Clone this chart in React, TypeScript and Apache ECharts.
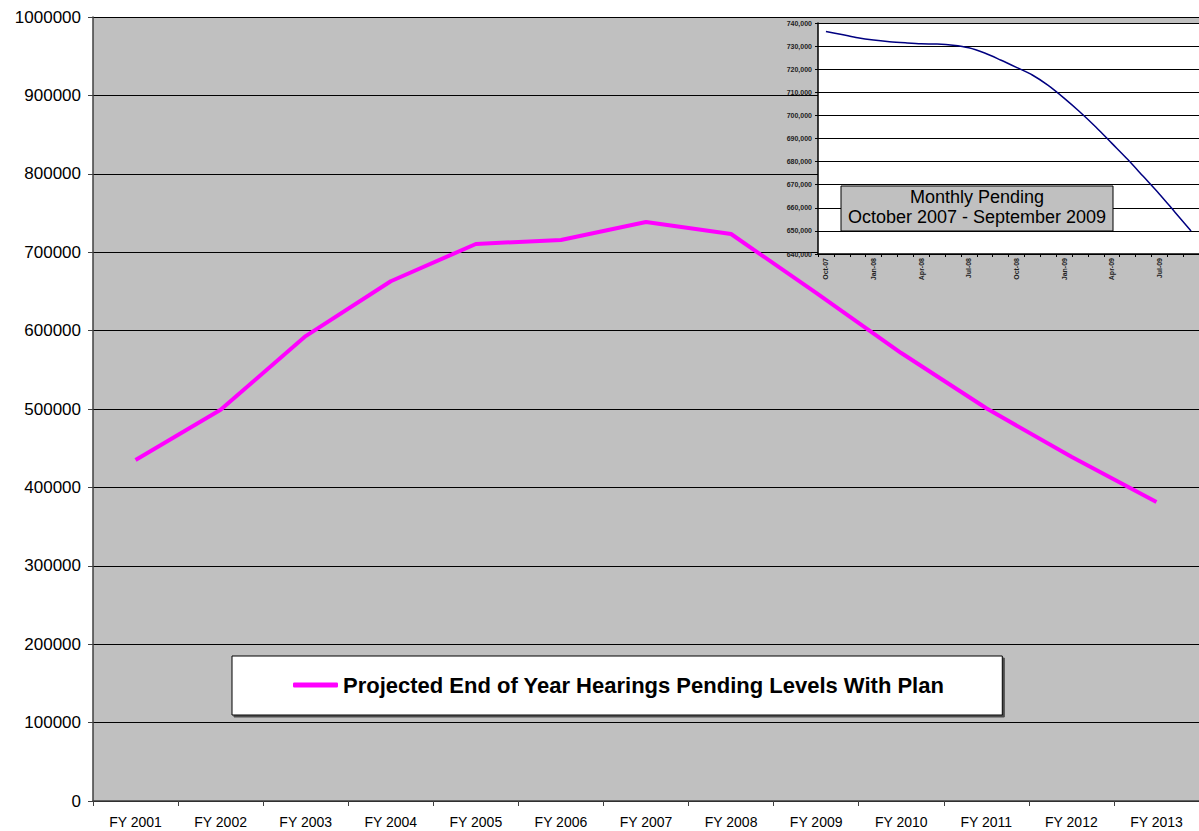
import React, { useEffect, useRef } from "react";
import * as echarts from "echarts";

const fiscalYears = ["FY 2001", "FY 2002", "FY 2003", "FY 2004", "FY 2005", "FY 2006", "FY 2007", "FY 2008", "FY 2009", "FY 2010", "FY 2011", "FY 2012", "FY 2013"];
const pendingWithPlan = [435000, 499000, 593000, 663000, 710500, 715600, 738500, 723200, 648000, 571400, 501000, 439000, 381400];
const seriesName = "Projected End of Year Hearings Pending Levels With Plan";

const months = ["Oct-07", "Nov-07", "Dec-07", "Jan-08", "Feb-08", "Mar-08", "Apr-08", "May-08", "Jun-08", "Jul-08", "Aug-08", "Sep-08", "Oct-08", "Nov-08", "Dec-08", "Jan-09", "Feb-09", "Mar-09", "Apr-09", "May-09", "Jun-09", "Jul-09", "Aug-09", "Sep-09"];
const monthlyPending = [736300, 735000, 733600, 732600, 731900, 731400, 731000, 730900, 730400, 729300, 727000, 724000, 720800, 717500, 713000, 707500, 701500, 695000, 688000, 681000, 673500, 666000, 658000, 650000];
const insetTitle = ["Monthly Pending", "October 2007 - September 2009"];

const FONT = "'Liberation Sans', Arial, sans-serif";

export default function App() {
  const ref = useRef<HTMLDivElement>(null);
  useEffect(() => {
    if (!ref.current) return;
    const chart = echarts.init(ref.current, null, { renderer: "svg" });
    chart.setOption({
      animation: false,
      backgroundColor: "#ffffff",
      textStyle: { fontFamily: FONT },
      legend: {
        data: [seriesName],
        left: 232,
        top: 656,
        padding: [18, 58, 19, 61],
        backgroundColor: "#ffffff",
        borderColor: "#000000",
        borderWidth: 1,
        shadowColor: "rgba(60,60,60,0.9)",
        shadowOffsetX: 2,
        shadowOffsetY: 2,
        shadowBlur: 1,
        icon: "roundRect",
        itemWidth: 45,
        itemHeight: 5,
        textStyle: { fontFamily: FONT, fontSize: 22, fontWeight: "bold", color: "#000000" },
      },
      grid: [
        { left: 93, top: 17, right: 0, height: 784, show: true, backgroundColor: "#c0c0c0", borderWidth: 0 },
        { left: 818, top: 23, right: 0, height: 231, show: true, backgroundColor: "#ffffff", borderWidth: 0, z: 5 },
      ],
      xAxis: [
        {
          type: "category",
          gridIndex: 0,
          data: fiscalYears,
          boundaryGap: true,
          axisLine: { lineStyle: { color: "#404040", width: 1.5 } },
          axisTick: { show: true, length: 5, interval: 0, lineStyle: { color: "#404040" } },
          axisLabel: { interval: 0, fontSize: 14, color: "#000000", margin: 14, fontFamily: FONT },
          splitLine: { show: false },
        },
        {
          type: "category",
          gridIndex: 1,
          data: months,
          boundaryGap: true,
          axisLine: { lineStyle: { color: "#000000", width: 1.5 } },
          axisTick: { show: true, length: 3, interval: 0, lineStyle: { color: "#000000" } },
          axisLabel: { interval: 2, rotate: 90, fontSize: 7, fontWeight: "bold", color: "#222222", margin: 4, fontFamily: FONT },
          splitLine: { show: false },
          z: 6,
        },
      ],
      yAxis: [
        {
          type: "value",
          gridIndex: 0,
          min: 0,
          max: 1000000,
          interval: 100000,
          axisLine: { show: true, lineStyle: { color: "#404040", width: 1.5 } },
          axisTick: { show: true, length: 5, lineStyle: { color: "#404040" } },
          axisLabel: { fontSize: 17, color: "#000000", margin: 12, fontFamily: FONT, formatter: (v: number) => String(v) },
          splitLine: { show: true, lineStyle: { color: "#000000", width: 1 } },
        },
        {
          type: "value",
          gridIndex: 1,
          min: 640000,
          max: 740000,
          interval: 10000,
          axisLine: { show: true, lineStyle: { color: "#000000", width: 1.5 } },
          axisTick: { show: true, length: 3, lineStyle: { color: "#000000" } },
          axisLabel: {
            fontSize: 7,
            fontWeight: "bold",
            color: "#222222",
            margin: 6,
            fontFamily: FONT,
            formatter: (v: number) => v.toLocaleString("en-US"),
          },
          splitLine: { show: true, lineStyle: { color: "#000000", width: 1 } },
          z: 6,
        },
      ],
      series: [
        {
          name: seriesName,
          type: "line",
          xAxisIndex: 0,
          yAxisIndex: 0,
          data: pendingWithPlan,
          showSymbol: false,
          symbol: "none",
          itemStyle: { color: "#ff00ff" },
          lineStyle: { color: "#ff00ff", width: 4 },
          z: 3,
        },
        {
          name: "Monthly Pending",
          type: "line",
          xAxisIndex: 1,
          yAxisIndex: 1,
          data: monthlyPending,
          showSymbol: false,
          symbol: "none",
          smooth: 0.3,
          itemStyle: { color: "#000080" },
          lineStyle: { color: "#000080", width: 1.5 },
          z: 7,
        },
      ],
      graphic: {
        elements: [
          {
            type: "rect",
            z: 100,
            shape: { x: 841, y: 186, width: 272, height: 45 },
            style: { fill: "#c0c0c0", stroke: "#000000", lineWidth: 1 },
          },
          {
            type: "text",
            z: 101,
            x: 977,
            y: 187,
            style: {
              text: insetTitle.join("\n"),
              fontFamily: FONT,
              fontSize: 18,
              lineHeight: 20,
              fill: "#000000",
              align: "center",
              verticalAlign: "top",
            },
          },
        ],
      },
    });
    return () => chart.dispose();
  }, []);
  return <div ref={ref} style={{ position: "fixed", left: 0, top: 0, width: 1199, height: 831 }} />;
}
